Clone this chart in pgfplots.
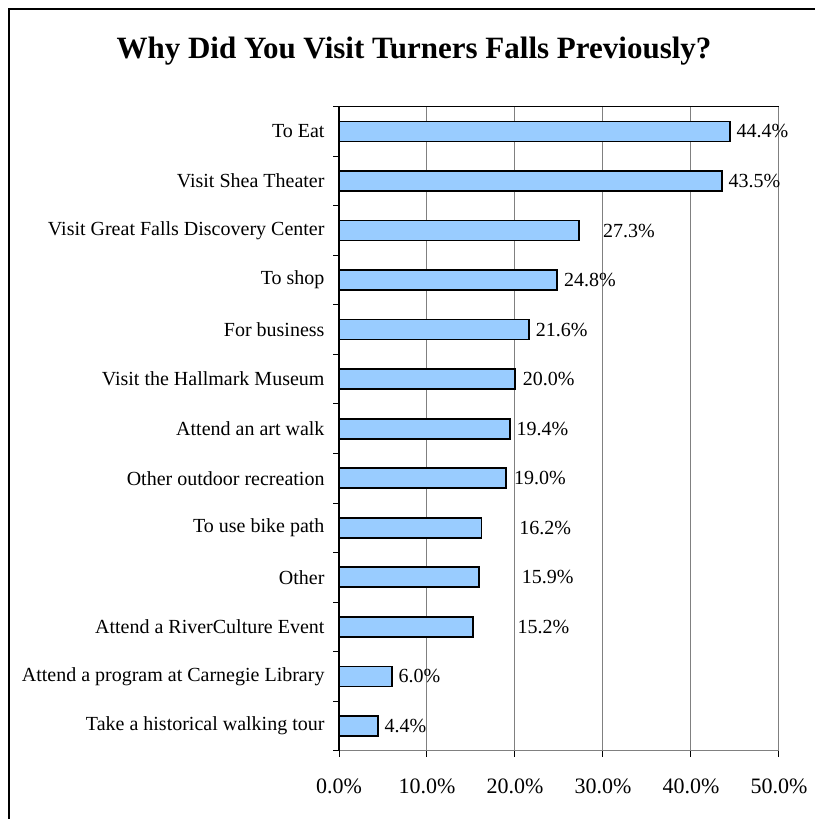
\documentclass[border=0pt]{standalone}
\usepackage{fontspec}
\setmainfont{Liberation Serif}
\usepackage{pgfplots}
\usepackage{pgfplotstable}
\pgfplotsset{compat=1.18}
\definecolor{barblue}{HTML}{99CCFF}
\definecolor{gridgray}{HTML}{808080}
\pgfplotstableread{
idx val dx
0 44.4 6
1 43.5 6
2 27.3 23
3 24.8 6
4 21.6 6
5 20.0 7
6 19.4 6
7 19.0 7
8 16.2 37
9 15.9 42
10 15.2 44
11 6.0 6
12 4.4 6
}\datatable
\begin{document}
\begin{tikzpicture}
\path[use as bounding box] (0,-819bp) rectangle (815bp,0);
\draw[line width=1.5bp] (9bp,-830bp) -- (9bp,-9bp) -- (830bp,-9bp);
\node[font=\fontsize{31bp}{33bp}\selectfont\bfseries] at (414bp,-51bp) {Why Did You Visit Turners Falls Previously?};
\begin{axis}[
  at={(339bp,-750.7bp)}, anchor=south west,
  scale only axis, width=440bp, height=644bp,
  xbar, bar width=20bp,
  xmin=0, xmax=50,
  ymin=-0.5, ymax=12.5, y dir=reverse,
  xtick={0,10,...,50},
  xticklabels={0.0\%,10.0\%,20.0\%,30.0\%,40.0\%,50.0\%},
  ytick={0,...,12},
  yticklabels={To Eat,Visit Shea Theater,Visit Great Falls Discovery Center,To shop,For business,Visit the Hallmark Museum,Attend an art walk,Other outdoor recreation,To use bike path,Other,Attend a RiverCulture Event,Attend a program at Carnegie Library,Take a historical walking tour},
  tick pos=left,
  ytick style={draw=none},
  extra y ticks={-0.5,0.5,...,12.5},
  extra y tick labels={},
  extra y tick style={ytick style={draw=black,line width=1bp}},
  xtick style={draw=black,line width=1bp},
  tick align=outside, major tick length=6bp,
  xmajorgrids, grid style={draw=gridgray,line width=1bp},
  axis line style={draw=gridgray,line width=1bp},
  yticklabel style={font=\fontsize{20bp}{22bp}\selectfont,xshift=-5bp},
  xticklabel style={font=\fontsize{22bp}{24bp}\selectfont,yshift=-19bp},
  /pgf/number format/assume math mode=true,
  point meta=x,
  visualization depends on={\thisrow{dx}\as\dx},
  nodes near coords={\pgfmathprintnumber[fixed,fixed zerofill,precision=1]{\pgfplotspointmeta}\%},
  every node near coord/.append style={font=\fontsize{20bp}{22bp}\selectfont,anchor=west,inner sep=0pt,xshift=\dx bp},
  clip=false,
]
\addplot[fill=barblue,draw=black,line width=1.7bp] table[x=val,y=idx] {\datatable};
\draw[black,line width=1.3bp] (rel axis cs:0,0) -- (rel axis cs:0,1) -- (rel axis cs:1,1);
\end{axis}
\end{tikzpicture}
\end{document}
